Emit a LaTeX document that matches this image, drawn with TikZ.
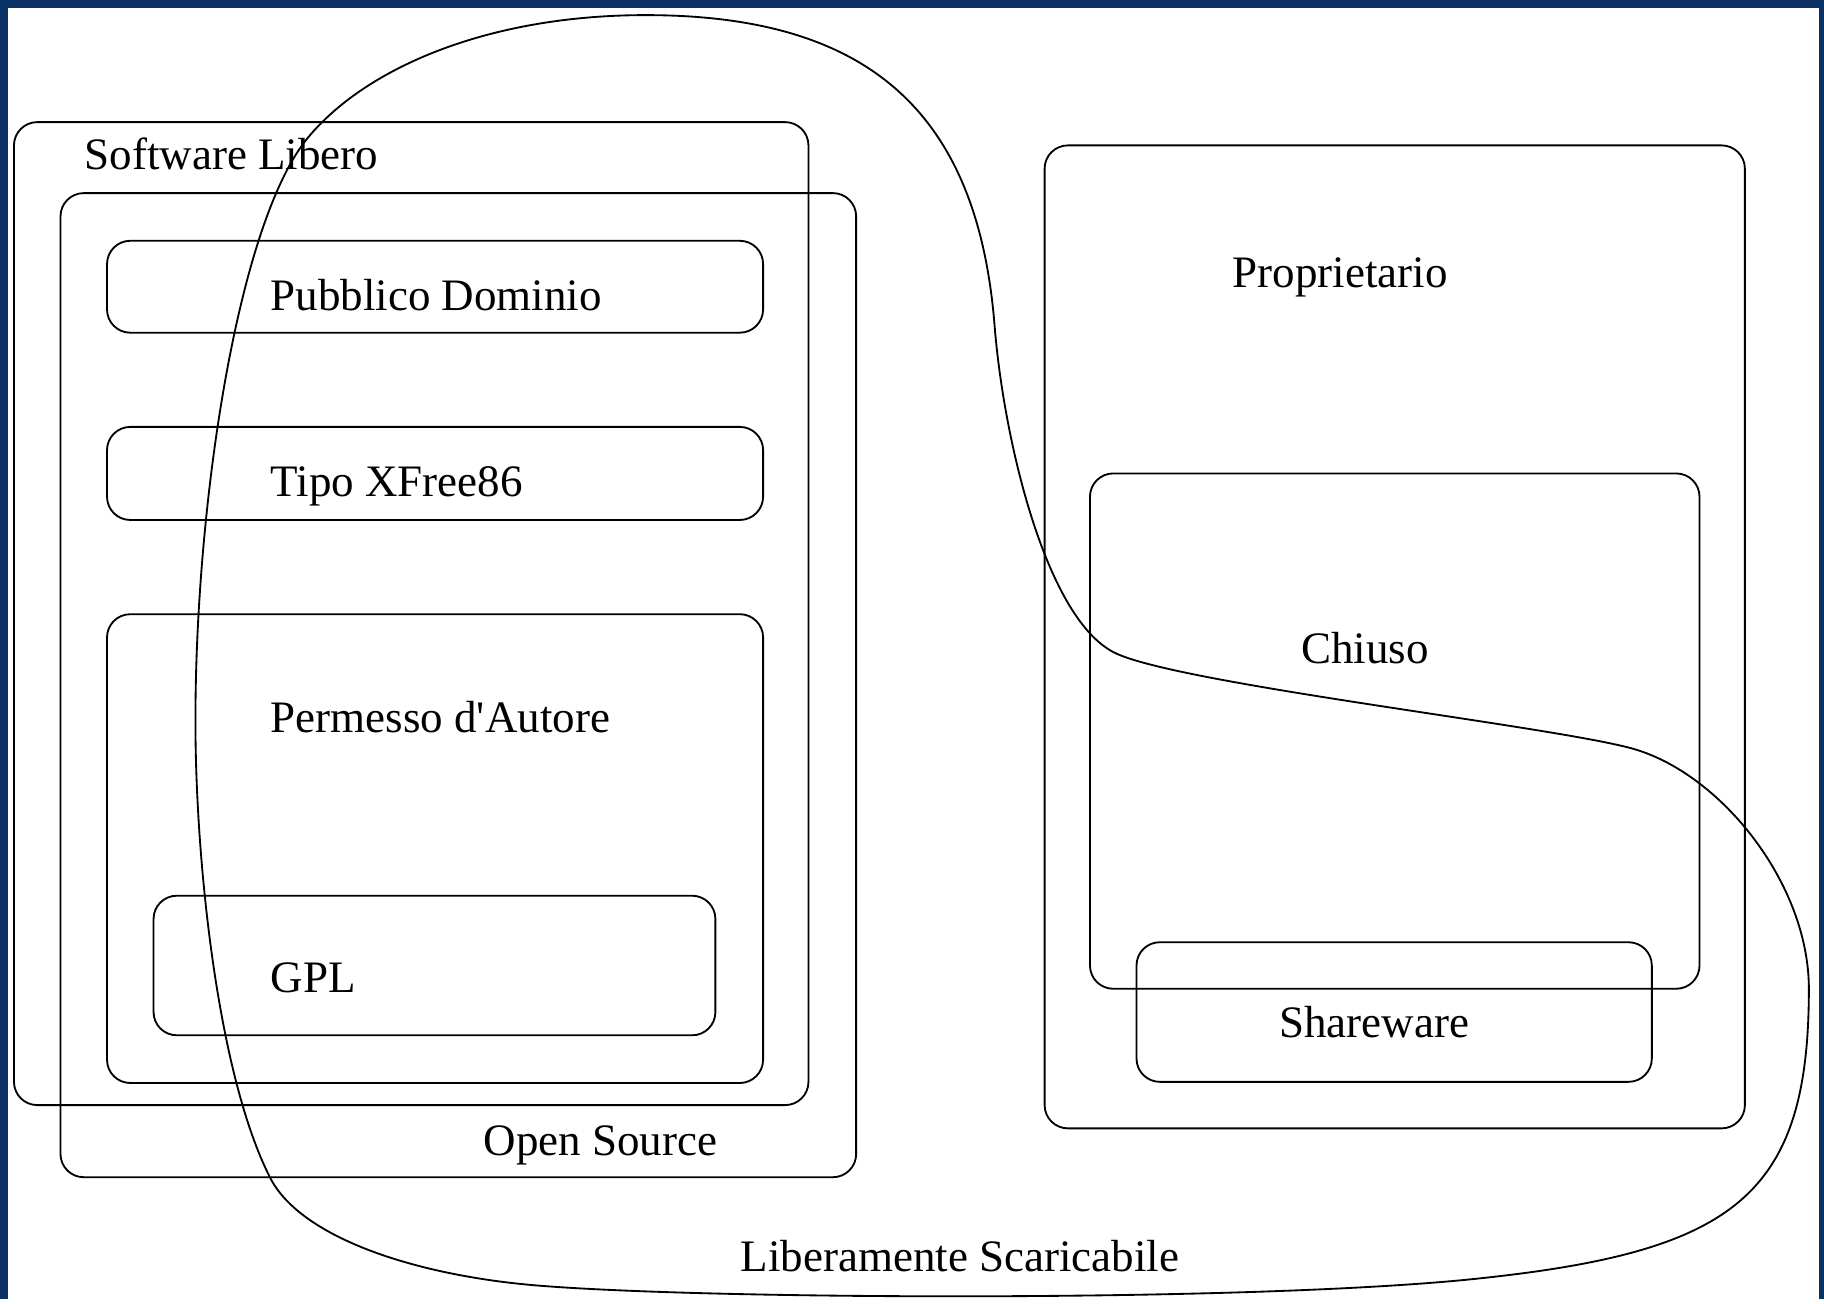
\documentclass[tikz,border=0pt]{standalone}
\usepackage{fontspec}
\setmainfont{Liberation Serif}[Ligatures=TeXOff]
\usepackage{xcolor}
\definecolor{frameblue}{RGB}{10,50,100}

\begin{document}
\begin{tikzpicture}[x=0.01cm, y=-0.01cm,
    setbox/.style={draw, rounded corners=0.2cm, line width=0.45pt},
    setlabel/.style={anchor=base west, inner sep=0pt, font=\fontsize{11}{13}\selectfont}]
    \fill[frameblue] (0,0) rectangle (1568,1117);
    \fill[white] (7,7) rectangle (1564,1117);

    % free software side
    \draw[setbox] (12,105) rectangle (695,950);
    \draw[setbox] (52,166) rectangle (736,1012);
    \draw[setbox] (92,207) rectangle (656,286);
    \draw[setbox] (92,367) rectangle (656,447);
    \draw[setbox] (92,528) rectangle (656,931);
    \draw[setbox] (132,770) rectangle (615,890);

    \node[setlabel] (libero) at (72,146) {Software Libero};
    \node[setlabel] (opensource) at (415,993) {Open Source};
    \node[setlabel] (pubblico) at (232,267) {Pubblico Dominio};
    \node[setlabel] (xfree) at (232,427) {Tipo XFree86};
    \node[setlabel] (permesso) at (232,630) {Permesso d'Autore};
    \node[setlabel] (gpl) at (232,853) {GPL};

    % proprietary side
    \draw[setbox] (898,125) rectangle (1500,970);
    \draw[setbox] (937,407) rectangle (1461,850);
    \draw[setbox] (977,810) rectangle (1420,930);

    \node[setlabel] (proprietario) at (1059,247) {Proprietario};
    \node[setlabel] (chiuso) at (1118,570) {Chiuso};
    \node[setlabel] (shareware) at (1099,892) {Shareware};

    % freely downloadable
    \draw[line width=0.45pt] (555,13) .. controls (740,13) and (840,90) .. (855,280)
        .. controls (863,380) and (900,535) .. (960,562)
        .. controls (1020,589) and (1340,625) .. (1405,644)
        .. controls (1480,666) and (1555,760) .. (1555,850)
        .. controls (1555,1030) and (1490,1077) .. (1262,1100)
        .. controls (1060,1120) and (580,1117) .. (450,1104)
        .. controls (350,1094) and (257,1062) .. (232,1012)
        .. controls (187,923) and (168,740) .. (168,620)
        .. controls (168,430) and (205,190) .. (265,118)
        .. controls (315,58) and (420,13) .. cycle;
    \node[setlabel] (scaricabile) at (636,1093) {Liberamente Scaricabile};
\end{tikzpicture}
\end{document}
